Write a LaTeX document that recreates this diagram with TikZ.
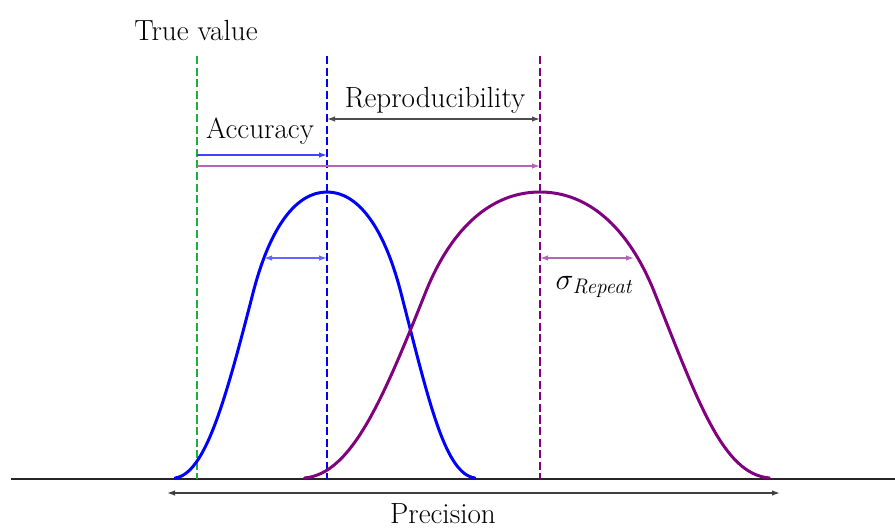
\documentclass[tikz,border=0pt]{standalone}
\usepackage{amsmath}
\usepackage{tikz}
\usetikzlibrary{arrows.meta,calc}
\definecolor{tvgreen}{RGB}{30,176,60}
\definecolor{vio}{RGB}{128,0,128}
\tikzset{
  crv/.style={line width=1.7pt,line join=round,line cap=round},
  vln/.style={line width=1.1pt,dash pattern=on 4.6pt off 2pt},
  dim/.style={{Latex[length=1.6mm,width=1.1mm]}-{Latex[length=1.6mm,width=1.1mm]},line width=.8pt},
  oneway/.style={-{Latex[length=1.6mm,width=1.1mm]},line width=.8pt},
  lb/.style={font=\fontsize{16.6}{20}\selectfont,inner sep=1pt},
  % one bell, drawn from its peak; the wider one is the same curve stretched
  bell/.pic={
    \draw[crv] (-152,286) .. controls (-122,282) and (-102,210) .. (-74,101)
      .. controls (-56.5,33) and (-30,0) .. (0,0)
      .. controls (30,0) and (56.5,33) .. (74,101)
      .. controls (102,210) and (118,282) .. (148,286);
  },
}

\begin{document}
\begin{tikzpicture}[x=0.02cm,y=-0.02cm]
\useasboundingbox (0,0) rectangle (895,530);
% the axis and where the three values sit on it
\draw[line width=1.5pt,black!85] (11,479) -- (895,479);
\coordinate (tv) at (197,56);
\coordinate (mb) at (327,56);
\coordinate (mp) at (540,56);
\draw[vln,tvgreen] (tv) -- (tv |- 0,479);
\draw[vln,blue] (mb) -- (mb |- 0,479);
\draw[vln,vio] (mp) -- (mp |- 0,479);
\node[lb] (tvlab) at (196,30) {True value};

% the two distributions
\pic[blue] (bb) at (327,192) {bell};
\pic[vio,xscale=1.55] (pb) at (540,192) {bell};

% offsets between the true value and the two means
\draw[dim,black!70] (mb |- 0,119) -- (mp |- 0,119);
\node[lb] (repro) at (435,100) {Reproducibility};
\draw[oneway,blue!75] (tv |- 0,155) -- (mb |- 0,155);
\node[lb] (acc) at (260,131) {Accuracy};
\draw[oneway,vio!60] (tv |- 0,166) -- (mp |- 0,166);

% widths of the two curves
\coordinate (bw) at (264,258);
\coordinate (pw) at (634,258);
\draw[dim,blue!60] (bw) -- (mb |- bw);
\draw[dim,vio!60] (mp |- pw) -- (pw);
\node[lb] (sig) at (595,287) {$\sigma_{\mathit{Repeat}}$};

% spread of all results
\coordinate (pl) at (167,493);
\coordinate (pr) at (780,493);
\draw[dim,black!75] (pl) -- (pr);
\node[lb] (prec) at (443,514) {Precision};
\end{tikzpicture}
\end{document}
